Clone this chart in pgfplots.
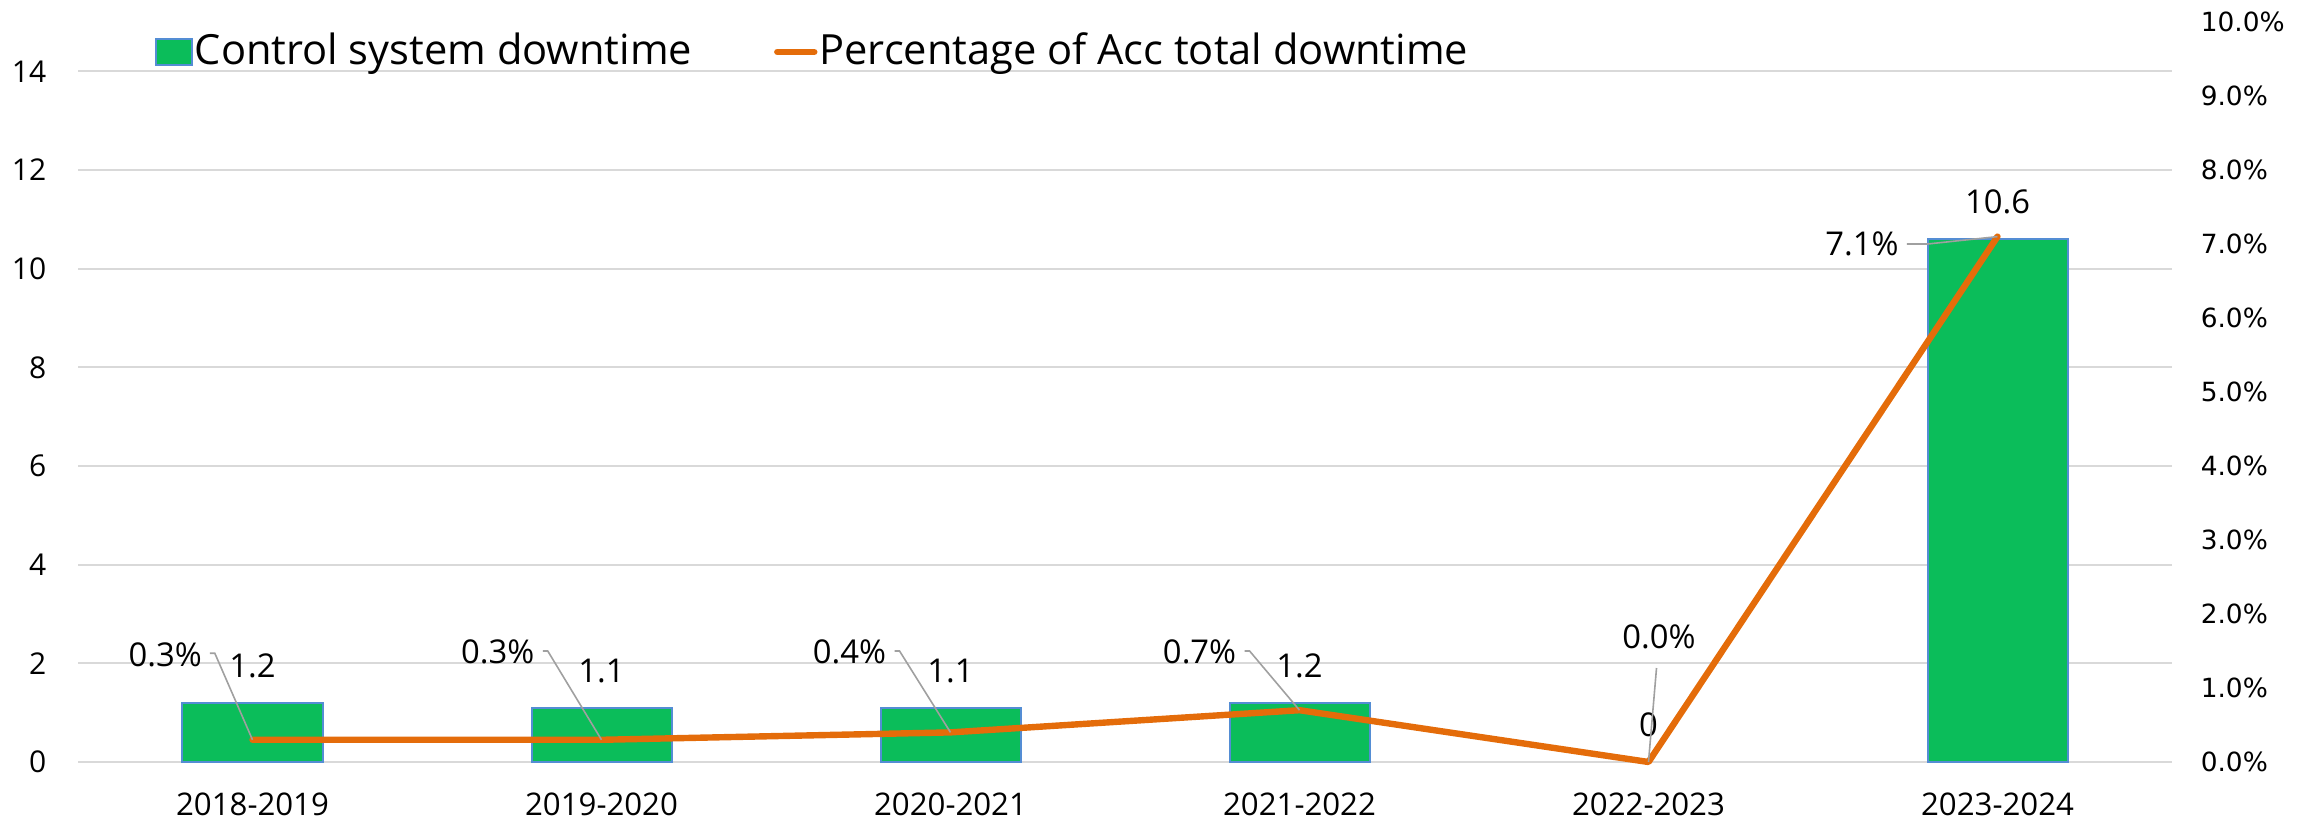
\documentclass[border=0pt]{standalone}
\usepackage{pgfplots}
\pgfplotsset{compat=1.18}
\usepackage{fontspec}
\setmainfont{Open Sans}
\newfontfamily\dejavu{DejaVu Sans}
\definecolor{barGreen}{RGB}{11,189,90}
\definecolor{barEdge}{RGB}{84,141,212}
\definecolor{lineOrange}{RGB}{228,108,10}
\definecolor{gridGray}{RGB}{217,217,217}
\definecolor{leaderGray}{RGB}{160,160,160}
\begin{document}
\begin{tikzpicture}
\path[use as bounding box] (-19.5bp,-14.75bp) rectangle (560bp,190.5bp);
\begin{axis}[
  scale only axis, width=523.5bp, height=185bp,
  xmin=-0.5, xmax=5.5, ymin=0, ymax=15,
  axis line style={draw=none},
  major tick length=0pt,
  xtick={0,1,2,3,4,5},
  xticklabels={2018-2019,2019-2020,2020-2021,2021-2022,2022-2023,2023-2024},
  ytick={0,2,4,6,8,10,12,14},
  ymajorgrids, grid style={gridGray, line width=0.5bp},
  /pgf/number format/assume math mode=true,
  yticklabel style={font=\fontsize{7.5bp}{9bp}\selectfont, anchor=east, inner sep=0pt, xshift=-7.75bp},
  xticklabel style={font=\fontsize{7.8bp}{9bp}\selectfont, anchor=base, inner sep=0pt, yshift=-13.25bp},
  ybar, bar width=35bp, bar shift=0pt,
  clip=false,
]
% bars (the 2022-2023 value is 0, so no bar is drawn for it)
\addplot[fill=barGreen, draw=barEdge, line width=0.5bp] coordinates {(0,1.2)(1,1.1)(2,1.1)(3,1.2)(5,10.6)};
% value labels for every category
\addplot[draw=none, fill=none, forget plot, nodes near coords,
  nodes near coords style={font=\fontsize{8.2bp}{10bp}\selectfont, inner sep=0pt, yshift=6bp, text=black}]
  coordinates {(0,1.2)(1,1.1)(2,1.1)(3,1.2)(4,0)(5,10.6)};
\end{axis}
\begin{axis}[
  scale only axis, width=523.5bp, height=185bp,
  xmin=-0.5, xmax=5.5, ymin=0, ymax=10,
  axis line style={draw=none},
  major tick length=0pt,
  xtick=\empty,
  ytick={0,1,2,3,4,5,6,7,8,9,10},
  yticklabel pos=right,
  /pgf/number format/assume math mode=true,
  yticklabel={\pgfmathprintnumber[fixed,fixed zerofill,precision=1]{\tick}\%},
  yticklabel style={font=\dejavu\fontsize{6.6bp}{8bp}\selectfont, anchor=west, inner sep=0pt, xshift=7bp},
  clip=false,
  legend columns=2,
  legend cell align=left,
  legend style={at={(0.0363,0.9595)}, anchor=west, draw=none, fill=none, inner sep=0pt,
    font=\fontsize{10.4bp}{12bp}\selectfont, column sep=0pt,
    nodes={inner sep=0.5bp},
    /tikz/every even column/.append style={column sep=20bp}},
]
\addlegendimage{legend image code/.code={\draw[fill=barGreen, draw=barEdge, line width=0.5bp] (0bp,-3.25bp) rectangle (9bp,3.25bp);}}
\addlegendentry{Control system downtime}
\addplot[lineOrange, line width=1.6bp, line join=round, line cap=round,
  legend image code/.code={\draw[lineOrange, line width=1.6bp] (0bp,0bp) -- (9.25bp,0bp);}]
  coordinates {(0,0.3)(1,0.3)(2,0.4)(3,0.7)(4,0)(5,7.1)};
\addlegendentry{Percentage of Acc total downtime}
\draw[leaderGray, line width=0.4bp] (axis cs:-0.122,1.47) -- (axis cs:-0.108,1.47) -- (axis cs:0,0.3);
\draw[leaderGray, line width=0.4bp] (axis cs:0.832,1.50) -- (axis cs:0.846,1.50) -- (axis cs:1,0.3);
\draw[leaderGray, line width=0.4bp] (axis cs:1.840,1.50) -- (axis cs:1.854,1.50) -- (axis cs:2,0.4);
\draw[leaderGray, line width=0.4bp] (axis cs:2.843,1.50) -- (axis cs:2.857,1.50) -- (axis cs:3,0.7);
\draw[leaderGray, line width=0.4bp] (axis cs:4.023,1.27) -- (axis cs:4,0);
\draw[leaderGray, line width=0.4bp] (axis cs:4.740,7.0) -- (axis cs:4.80,7.0) -- (axis cs:5,7.1);
\node[font=\fontsize{8.2bp}{10bp}\selectfont, anchor=east, inner sep=0pt] at (axis cs:-0.143,1.453) {0.3\%};
\node[font=\fontsize{8.2bp}{10bp}\selectfont, anchor=east, inner sep=0pt] at (axis cs:0.810,1.49) {0.3\%};
\node[font=\fontsize{8.2bp}{10bp}\selectfont, anchor=east, inner sep=0pt] at (axis cs:1.818,1.49) {0.4\%};
\node[font=\fontsize{8.2bp}{10bp}\selectfont, anchor=east, inner sep=0pt] at (axis cs:2.821,1.49) {0.7\%};
\node[font=\fontsize{8.2bp}{10bp}\selectfont, inner sep=0pt] at (axis cs:4.03,1.69) {0.0\%};
\node[font=\fontsize{8.2bp}{10bp}\selectfont, anchor=east, inner sep=0pt] at (axis cs:4.719,7.0) {7.1\%};
\end{axis}
\end{tikzpicture}
\end{document}
